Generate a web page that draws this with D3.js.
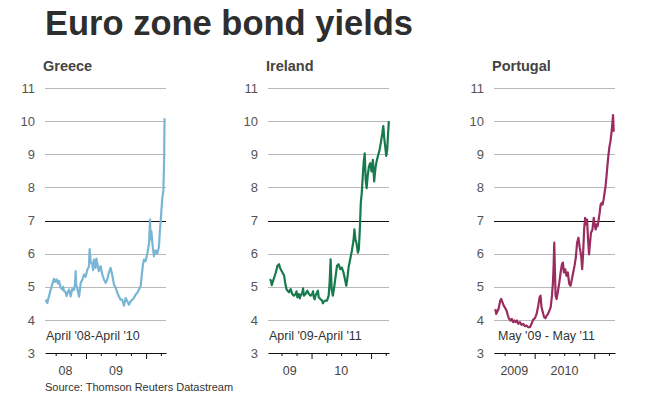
<!DOCTYPE html>
<html>
<head>
<meta charset="utf-8">
<script src="https://cdn.jsdelivr.net/npm/d3@7"></script>
<style>
  body { margin: 0; background: #fff; }
  text { font-family: "Liberation Sans", Arial, sans-serif; }
</style>
</head>
<body>
<div id="chart"></div>
<script>
// Chart data
const countries = ["Greece", "Ireland", "Portugal"];
const periodLabels = ["April '08-April '10", "April '09-April '11", "May '09 - May '11"];
const yearLabels = [["08", "09"], ["09", "10"], ["2009", "2010"]];
const xDomains = [
  ["2008-04-27", "2010-05-02"],
  ["2009-04-09", "2011-04-21"],
  ["2009-04-27", "2011-05-08"]
];
const yTicks = [3, 4, 5, 6, 7, 8, 9, 10, 11];
const lineColors = ["#79b6d6", "#167a4c", "#9a2c60"];

const greece = [
  ["2008-05-01", 4.61], ["2008-05-06", 4.55], ["2008-05-11", 4.51], ["2008-05-16", 4.62],
  ["2008-05-21", 4.71], ["2008-05-31", 4.9], ["2008-06-10", 5.07], ["2008-06-20", 5.24],
  ["2008-06-28", 5.15], ["2008-07-07", 5.22], ["2008-07-14", 5.1], ["2008-07-21", 5.18],
  ["2008-07-31", 4.97], ["2008-08-10", 4.92], ["2008-08-15", 5.0], ["2008-08-20", 4.87],
  ["2008-08-30", 4.84], ["2008-09-05", 4.72], ["2008-09-10", 4.8], ["2008-09-20", 4.92],
  ["2008-09-30", 4.71], ["2008-10-10", 4.95], ["2008-10-20", 4.9], ["2008-10-27", 5.1],
  ["2008-10-30", 5.47], ["2008-11-03", 5.05], ["2008-11-09", 4.95], ["2008-11-20", 4.7],
  ["2008-11-30", 5.12], ["2008-12-10", 5.22], ["2008-12-20", 5.37], ["2008-12-30", 5.3],
  ["2009-01-09", 5.52], ["2009-01-19", 5.6], ["2009-01-23", 6.14], ["2009-01-29", 5.77],
  ["2009-02-08", 5.67], ["2009-02-13", 5.5], ["2009-02-18", 5.82], ["2009-02-28", 5.57],
  ["2009-03-05", 5.85], ["2009-03-10", 5.72], ["2009-03-20", 5.47], ["2009-03-31", 5.62],
  ["2009-04-10", 5.37], ["2009-04-20", 5.22], ["2009-04-30", 5.12], ["2009-05-10", 5.22],
  ["2009-05-20", 5.42], ["2009-05-30", 5.57], ["2009-06-09", 5.37], ["2009-06-20", 5.07],
  ["2009-06-30", 4.97], ["2009-07-10", 4.82], ["2009-07-20", 4.71], ["2009-07-30", 4.61],
  ["2009-08-09", 4.61], ["2009-08-20", 4.43], ["2009-08-30", 4.66], ["2009-09-09", 4.56],
  ["2009-09-19", 4.46], ["2009-09-29", 4.56], ["2009-10-09", 4.61], ["2009-10-19", 4.66],
  ["2009-10-29", 4.76], ["2009-11-09", 4.82], ["2009-11-19", 4.92], ["2009-11-29", 5.02],
  ["2009-12-05", 5.32], ["2009-12-13", 5.67], ["2009-12-19", 5.82], ["2009-12-29", 5.77],
  ["2010-01-09", 6.02], ["2010-01-19", 6.3], ["2010-01-25", 7.03], ["2010-01-28", 6.43],
  ["2010-02-02", 6.68], ["2010-02-10", 6.22], ["2010-02-18", 5.92], ["2010-02-28", 6.1],
  ["2010-03-10", 6.0], ["2010-03-20", 6.2], ["2010-03-26", 6.7], ["2010-03-31", 7.0],
  ["2010-04-04", 7.3], ["2010-04-10", 7.7], ["2010-04-16", 7.9], ["2010-04-19", 8.5],
  ["2010-04-21", 9.0], ["2010-04-23", 10.09]
];

const ireland = [
  ["2009-04-21", 5.23], ["2009-04-27", 5.18], ["2009-05-02", 5.05], ["2009-05-07", 5.13],
  ["2009-05-17", 5.28], ["2009-05-27", 5.43], ["2009-06-06", 5.63], ["2009-06-16", 5.68],
  ["2009-06-21", 5.58], ["2009-06-26", 5.53], ["2009-07-07", 5.43], ["2009-07-17", 5.33],
  ["2009-07-23", 5.13], ["2009-07-31", 4.93], ["2009-08-08", 4.88], ["2009-08-16", 4.83],
  ["2009-08-26", 4.93], ["2009-09-05", 4.78], ["2009-09-15", 4.73], ["2009-09-25", 4.78],
  ["2009-10-01", 4.86], ["2009-10-06", 4.68], ["2009-10-16", 4.78], ["2009-10-21", 4.65],
  ["2009-10-26", 4.73], ["2009-11-05", 4.81], ["2009-11-10", 4.95], ["2009-11-15", 4.73],
  ["2009-11-25", 4.78], ["2009-12-06", 4.88], ["2009-12-16", 4.78], ["2009-12-26", 4.73],
  ["2010-01-05", 4.78], ["2010-01-10", 4.86], ["2010-01-15", 4.68], ["2010-01-20", 4.62],
  ["2010-01-25", 4.73], ["2010-02-04", 4.83], ["2010-02-09", 4.88], ["2010-02-14", 4.68],
  ["2010-02-24", 4.63], ["2010-03-07", 4.58], ["2010-03-12", 4.5], ["2010-03-17", 4.55],
  ["2010-03-27", 4.58], ["2010-04-06", 4.58], ["2010-04-16", 4.73], ["2010-04-22", 5.13],
  ["2010-04-28", 5.83], ["2010-05-04", 4.93], ["2010-05-12", 4.73], ["2010-05-21", 5.03],
  ["2010-05-29", 5.33], ["2010-06-06", 5.63], ["2010-06-16", 5.68], ["2010-06-26", 5.53],
  ["2010-07-06", 5.58], ["2010-07-16", 5.43], ["2010-07-27", 5.18], ["2010-08-02", 5.03],
  ["2010-08-08", 5.23], ["2010-08-16", 5.58], ["2010-08-26", 5.83], ["2010-09-05", 6.08],
  ["2010-09-15", 6.38], ["2010-09-21", 6.73], ["2010-09-27", 6.43], ["2010-10-03", 6.33],
  ["2010-10-12", 6.03], ["2010-10-18", 6.13], ["2010-10-24", 6.73], ["2010-10-30", 7.53],
  ["2010-11-05", 7.83], ["2010-11-11", 8.33], ["2010-11-17", 8.78], ["2010-11-23", 9.03],
  ["2010-11-29", 8.23], ["2010-12-05", 7.98], ["2010-12-11", 8.33], ["2010-12-19", 8.63],
  ["2010-12-27", 8.73], ["2011-01-04", 8.48], ["2011-01-12", 8.83], ["2011-01-20", 8.18],
  ["2011-01-29", 8.63], ["2011-02-06", 8.83], ["2011-02-14", 8.98], ["2011-02-22", 9.13],
  ["2011-03-03", 9.38], ["2011-03-11", 9.63], ["2011-03-17", 9.85], ["2011-03-23", 9.48],
  ["2011-03-29", 9.23], ["2011-04-04", 8.95], ["2011-04-10", 9.13], ["2011-04-16", 9.68],
  ["2011-04-20", 10.0]
];

const portugal = [
  ["2009-05-05", 4.33], ["2009-05-11", 4.18], ["2009-05-15", 4.23], ["2009-05-25", 4.33],
  ["2009-06-04", 4.58], ["2009-06-10", 4.63], ["2009-06-18", 4.53], ["2009-06-26", 4.43],
  ["2009-07-05", 4.35], ["2009-07-13", 4.28], ["2009-07-21", 4.13], ["2009-07-29", 4.03],
  ["2009-08-06", 3.98], ["2009-08-14", 4.03], ["2009-08-22", 3.93], ["2009-08-30", 3.98],
  ["2009-09-07", 3.93], ["2009-09-15", 3.98], ["2009-09-23", 3.88], ["2009-10-03", 3.93],
  ["2009-10-13", 3.85], ["2009-10-23", 3.88], ["2009-11-02", 3.81], ["2009-11-12", 3.83],
  ["2009-11-22", 3.78], ["2009-12-03", 3.78], ["2009-12-13", 3.88], ["2009-12-23", 4.01],
  ["2010-01-03", 4.05], ["2010-01-13", 4.18], ["2010-01-23", 4.43], ["2010-01-31", 4.68],
  ["2010-02-06", 4.73], ["2010-02-12", 4.38], ["2010-02-20", 4.23], ["2010-02-28", 4.08],
  ["2010-03-08", 4.05], ["2010-03-16", 4.13], ["2010-03-24", 4.18], ["2010-04-01", 4.28],
  ["2010-04-09", 4.38], ["2010-04-17", 4.73], ["2010-04-23", 5.13], ["2010-04-27", 5.63],
  ["2010-05-01", 6.33], ["2010-05-05", 5.53], ["2010-05-09", 4.73], ["2010-05-15", 4.63],
  ["2010-05-24", 4.88], ["2010-06-01", 5.13], ["2010-06-09", 5.43], ["2010-06-17", 5.68],
  ["2010-06-23", 5.73], ["2010-06-29", 5.43], ["2010-07-07", 5.53], ["2010-07-15", 5.33],
  ["2010-07-23", 5.43], ["2010-08-01", 5.08], ["2010-08-09", 5.03], ["2010-08-17", 5.23],
  ["2010-08-25", 5.43], ["2010-09-02", 5.63], ["2010-09-10", 5.88], ["2010-09-18", 6.33],
  ["2010-09-26", 6.48], ["2010-10-04", 6.18], ["2010-10-13", 5.93], ["2010-10-19", 5.53],
  ["2010-10-25", 6.03], ["2010-10-31", 6.73], ["2010-11-06", 7.08], ["2010-11-12", 6.88],
  ["2010-11-18", 7.03], ["2010-11-24", 6.43], ["2010-11-30", 5.98], ["2010-12-06", 6.33],
  ["2010-12-12", 6.63], ["2010-12-21", 6.73], ["2010-12-29", 7.08], ["2011-01-04", 6.88],
  ["2011-01-10", 6.73], ["2011-01-16", 6.88], ["2011-01-22", 6.83], ["2011-01-28", 7.03],
  ["2011-02-03", 7.23], ["2011-02-09", 7.48], ["2011-02-15", 7.53], ["2011-02-21", 7.48],
  ["2011-02-27", 7.63], ["2011-03-05", 7.83], ["2011-03-11", 8.03], ["2011-03-17", 8.33],
  ["2011-03-23", 8.68], ["2011-03-29", 8.98], ["2011-04-04", 9.23], ["2011-04-10", 9.38],
  ["2011-04-16", 9.63], ["2011-04-22", 9.93], ["2011-04-26", 10.18], ["2011-04-30", 9.68]
];

const series = [greece, ireland, portugal];

const width = 660;
const height = 395;
const panelLeft = [45, 268, 494];
const panelWidth = 121;
const parseDate = d3.timeParse("%Y-%m-%d");

const svg = d3
  .select("#chart")
  .append("svg")
  .attr("width", width)
  .attr("height", height);

// Main title
svg
  .append("text")
  .attr("x", 45)
  .attr("y", 35)
  .style("font-size", "34.5px")
  .style("font-weight", "bold")
  .style("fill", "#2e2e2e")
  .text("Euro zone bond yields");

// Shared y scale, 3 to 11 per cent
const y = d3.scaleLinear().domain([3, 11]).range([353, 88]);

countries.forEach(function(name, i) {
  const left = panelLeft[i];
  const x = d3
    .scaleTime()
    .domain(xDomains[i].map(parseDate))
    .range([left, left + panelWidth]);

  const g = svg.append("g");

  // country name
  g.append("text")
    .attr("x", left - 2)
    .attr("y", 71)
    .style("font-size", "14.5px")
    .style("font-weight", "bold")
    .style("fill", "#444")
    .text(name);

  // horizontal gridlines (7 in black)
  g.selectAll(".grid")
    .data(yTicks.filter(d => d > 3))
    .enter()
    .append("line")
    .attr("x1", left)
    .attr("x2", left + panelWidth)
    .attr("y1", d => Math.round(y(d)) + 0.5)
    .attr("y2", d => Math.round(y(d)) + 0.5)
    .style("stroke", d => (d === 7 ? "#111" : "#b8b8b8"))
    .style("stroke-width", 1);

  // y labels
  g.selectAll(".ylab")
    .data(yTicks)
    .enter()
    .append("text")
    .attr("x", left - 10)
    .attr("y", d => y(d))
    .attr("dy", "0.36em")
    .attr("text-anchor", "end")
    .style("font-size", "13px")
    .style("fill", "#555")
    .text(d => d);

  // x axis at 3, quarterly ticks pointing down, longer at new year
  const axis = g
    .append("g")
    .attr("transform", "translate(0," + Math.round(y(3)) + ")")
    .call(
      d3
        .axisBottom(x)
        .ticks(d3.timeMonth.every(3))
        .tickSizeInner(3)
        .tickSizeOuter(0)
        .tickFormat("")
    );
  axis.select(".domain").style("stroke", "#111");
  axis
    .selectAll(".tick line")
    .style("stroke", "#111")
    .attr("y2", d => (d.getMonth() === 0 ? 6 : 3));

  // year labels centred on each visible year span
  const firstYear = d3.timeYear.floor(x.domain()[0]).getFullYear();
  g.selectAll(".yearlab")
    .data(yearLabels[i])
    .enter()
    .append("text")
    .attr("x", function(d, j) {
      const a = d3.max([x.domain()[0], new Date(firstYear + j, 0, 1)]);
      const b = d3.min([x.domain()[1], new Date(firstYear + j + 1, 0, 1)]);
      return (x(a) + x(b)) / 2;
    })
    .attr("y", 375)
    .attr("text-anchor", "middle")
    .style("font-size", "12.5px")
    .style("fill", "#444")
    .text(d => d);

  // period label
  g.append("text")
    .attr("x", left + (i === 2 ? 4 : 1))
    .attr("y", 340)
    .style("font-size", "12.5px")
    .style("fill", "#333")
    .text(periodLabels[i]);

  // yield line
  const line = d3
    .line()
    .x(d => x(parseDate(d[0])))
    .y(d => y(d[1]));

  g.append("path")
    .datum(series[i])
    .attr("d", line)
    .style("fill", "none")
    .style("stroke", lineColors[i])
    .style("stroke-width", 2.2)
    .style("stroke-linejoin", "round");
});

// source note
svg
  .append("text")
  .attr("x", 45)
  .attr("y", 391)
  .style("font-size", "11px")
  .style("fill", "#333")
  .text("Source: Thomson Reuters Datastream");
</script>
</body>
</html>
